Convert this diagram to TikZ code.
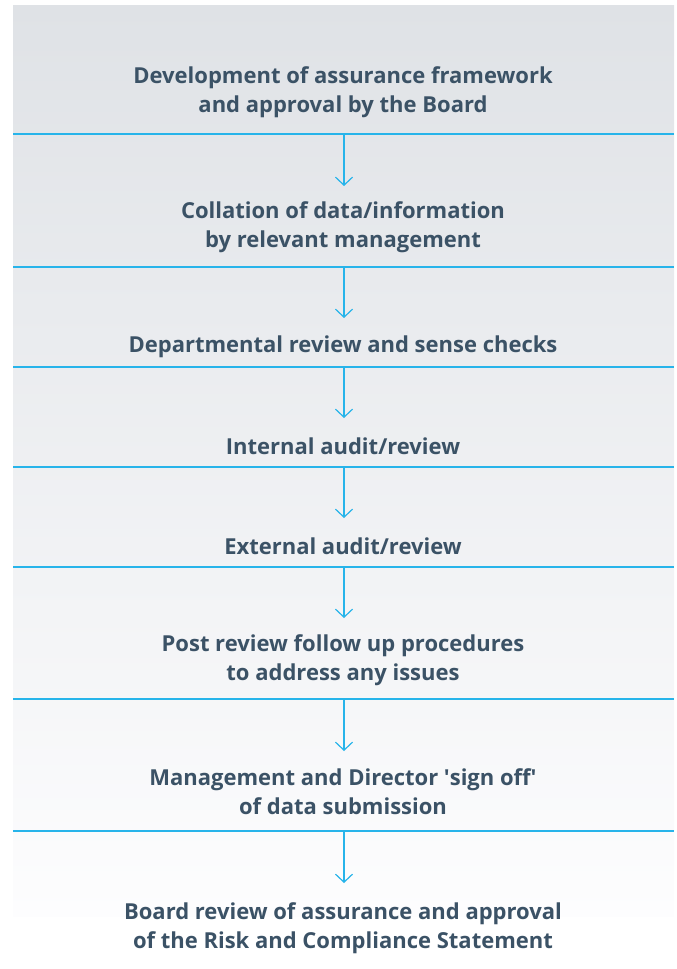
\documentclass[tikz,border=0pt]{standalone}
\usepackage{fontspec}
\setmainfont{Open Sans}
\usetikzlibrary{arrows.meta}
\definecolor{rulecol}{HTML}{27B4EA}
\definecolor{textcol}{HTML}{3B5266}
\definecolor{paneltop}{HTML}{DFE2E6}
\definecolor{panelbot}{HTML}{FDFDFE}
\tikzset{
  stepbox/.style={align=center, text=textcol, font=\fontsize{22}{29}\selectfont\bfseries, inner sep=0pt},
  divider/.style={draw=rulecol, line width=1.4pt},
  flow/.style={draw=rulecol, line width=1.2pt, -{Straight Barb[length=8pt,width=17pt,line width=1.2pt]}}
}
\begin{document}
\begin{tikzpicture}[x=1pt,y=-1pt]
\useasboundingbox (0,0) rectangle (677,969);
% background panel, fading from grey to white
\shade[top color=paneltop, bottom color=panelbot] (13,5) rectangle (674,916);

% dividers between the stages
\foreach \yy/\n in {134/1,267/2,367/3,467/4,567/5,699/6,831/7}{
  \draw[divider] (13,\yy) -- (674,\yy);
  \coordinate (d\n) at (344,\yy);
}

% stage texts
\node[stepbox] (s1) at (343,92) {Development of assurance framework\\and approval by the Board};
\node[stepbox] (s2) at (343,227) {Collation of data/information\\by relevant management};
\node[stepbox] (s3) at (343,347) {Departmental review and sense checks};
\node[stepbox] (s4) at (343,446) {Internal audit/review};
\node[stepbox] (s5) at (343,546) {External audit/review};
\node[stepbox] (s6) at (343,660) {Post review follow up procedures\\to address any issues};
\node[stepbox] (s7) at (343,792) {Management and Director \textquotesingle sign off\textquotesingle\\of data submission};
\node[stepbox] (s8) at (343,928) {Board review of assurance and approval\\of the Risk and Compliance Statement};

% arrow ends above each following stage
\coordinate (t2) at (344,186);
\coordinate (t3) at (344,318);
\coordinate (t4) at (344,418);
\coordinate (t5) at (344,518);
\coordinate (t6) at (344,618);
\coordinate (t7) at (344,751);
\coordinate (t8) at (344,883);

\foreach \a/\b in {1/2,2/3,3/4,4/5,5/6,6/7,7/8}{
  \draw[flow] (d\a) -- (t\b);
}
\end{tikzpicture}
\end{document}
